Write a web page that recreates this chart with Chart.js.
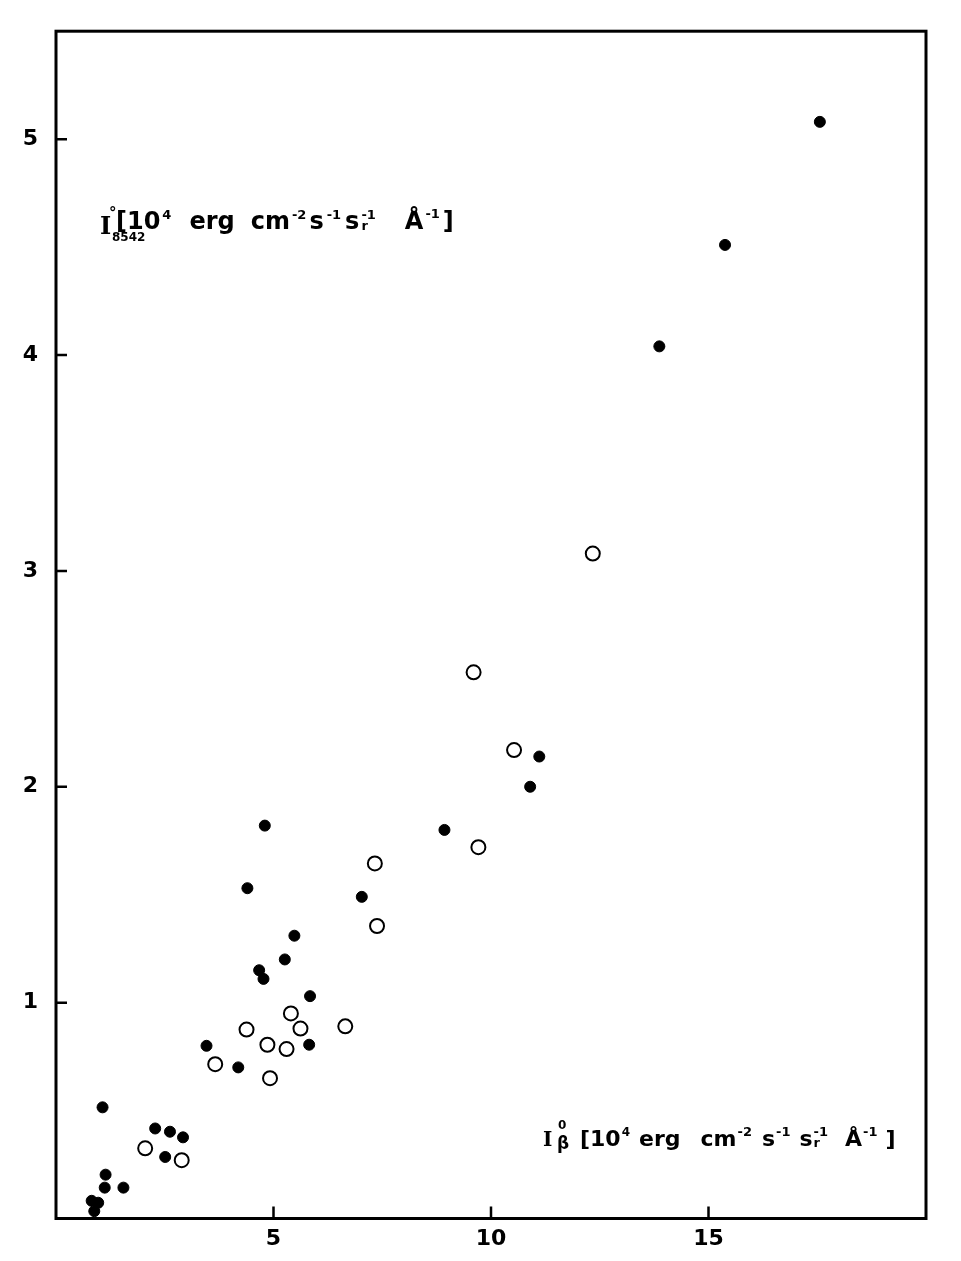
<!DOCTYPE html>
<html>
<head>
<meta charset="utf-8">
<script src="https://cdn.jsdelivr.net/npm/chart.js@4.4.0/dist/chart.umd.min.js"></script>
<style>
  body { margin: 0; background: #fff; }
  canvas { display: block; }
</style>
</head>
<body>
<canvas id="chart" width="961" height="1261"></canvas>
<script>
// I_beta (x) vs I_8542 (y), both in 10^4 erg cm^-2 s^-1 sr^-1 A^-1
const filledX = [17.56, 15.38, 13.87, 11.11, 10.90, 8.93, 4.80, 4.40, 7.03, 5.48, 5.26, 4.67, 4.77, 5.84,
                 3.46, 5.82, 4.19, 1.07, 2.28, 2.62, 2.92, 2.51, 1.14, 1.12, 1.55, 0.82, 0.97, 0.88]
const filledY = [5.08, 4.51, 4.04, 2.14, 2.00, 1.80, 1.82, 1.53, 1.49, 1.31, 1.20, 1.15, 1.11, 1.03,
                 0.80, 0.805, 0.70, 0.515, 0.417, 0.402, 0.376, 0.285, 0.203, 0.143, 0.143, 0.082, 0.073, 0.034]

const openX = [12.34, 9.60, 10.53, 9.71, 7.33, 7.38, 6.65, 5.40, 5.62, 4.38, 4.86, 5.30, 3.66, 4.92, 2.05, 2.89]
const openY = [3.08, 2.53, 2.17, 1.72, 1.645, 1.355, 0.89, 0.95, 0.88, 0.875, 0.805, 0.785, 0.715, 0.65, 0.325, 0.27]

const xTicks = [5, 10, 15]
const yTicks = [1, 2, 3, 4, 5]

const toPoints = (xs, ys) => xs.map((x, i) => ({x, y: ys[i]}))

const FONT = '"DejaVu Sans", sans-serif'

// draws a line of text made of runs: {t, size, dy, gap} or {sub, sup, size, subDy, supDy, gap}
function drawRuns(ctx, x, y, runs) {
    ctx.textBaseline = 'alphabetic'
    ctx.textAlign = 'left'
    runs.forEach(r => {
        if (r.sub !== undefined) {
            ctx.font = 'bold ' + r.size + 'px ' + FONT
            ctx.fillText(r.sub, x, y + r.subDy)
            const w1 = ctx.measureText(r.sub).width
            ctx.fillText(r.sup, x, y + r.supDy)
            const w2 = ctx.measureText(r.sup).width
            x += Math.max(w1, w2) + (r.gap || 0)
        } else {
            ctx.font = (r.serif ? 'bold ' + r.size + 'px "DejaVu Serif", serif' : 'bold ' + r.size + 'px ' + FONT)
            ctx.fillText(r.t, x, y + (r.dy || 0))
            x += ctx.measureText(r.t).width + (r.gap || 0)
        }
    })
    return x
}

const framePlugin = {
    id: 'frame',
    beforeDraw(chart) {
        const ctx = chart.ctx
        ctx.save()
        ctx.fillStyle = '#fff'
        ctx.fillRect(0, 0, chart.width, chart.height)
        ctx.restore()
    },
    afterDraw(chart) {
        const {ctx, chartArea: a, scales} = chart
        ctx.save()
        ctx.strokeStyle = '#000'
        ctx.fillStyle = '#000'
        ctx.lineWidth = 3
        ctx.strokeRect(a.left, a.top, a.right - a.left, a.bottom - a.top)

        ctx.lineWidth = 2.5
        ctx.beginPath()
        yTicks.forEach(v => {
            const py = scales.y.getPixelForValue(v)
            ctx.moveTo(a.left, py)
            ctx.lineTo(a.left + 11, py)
        })
        xTicks.forEach(v => {
            const px = scales.x.getPixelForValue(v)
            ctx.moveTo(px, a.bottom)
            ctx.lineTo(px, a.bottom - 12)
        })
        ctx.stroke()

        // y axis title, top left inside the frame
        let yx = a.left + 44, yb = a.top + 198
        drawRuns(ctx, yx, yb + 5, [{t: 'I', size: 24, serif: true}])
        drawRuns(ctx, yx + 9, yb - 11, [{t: '°', size: 15}])
        drawRuns(ctx, yx + 12, yb + 12, [{t: '8542', size: 12}])
        drawRuns(ctx, yx + 16, yb, [
            {t: '[10', size: 24, gap: 2},
            {t: '4', size: 13, dy: -10, gap: 18},
            {t: 'erg', size: 24, gap: 16},
            {t: 'cm', size: 24, gap: 2},
            {t: '-2', size: 13, dy: -10, gap: 3},
            {t: 's', size: 24, gap: 3},
            {t: '-1', size: 13, dy: -10, gap: 4},
            {t: 's', size: 24, gap: 2},
            {sub: 'r', sup: '-1', size: 13, subDy: 1, supDy: -10, gap: 29},
            {t: 'Å', size: 24, gap: 2},
            {t: '-1', size: 13, dy: -11, gap: 3},
            {t: ']', size: 24}
        ])

        // x axis title, bottom right inside the frame
        let xx = a.left + 487, xb = a.bottom - 73
        drawRuns(ctx, xx, xb, [{t: 'I', size: 20, serif: true}])
        drawRuns(ctx, xx + 15, xb - 17, [{t: '0', size: 12}])
        drawRuns(ctx, xx + 14, xb + 3, [{t: 'β', size: 17}])
        drawRuns(ctx, xx + 37, xb, [
            {t: '[10', size: 22, gap: 1},
            {t: '4', size: 12, dy: -10, gap: 9},
            {t: 'erg', size: 22, gap: 20},
            {t: 'cm', size: 22, gap: 1},
            {t: '-2', size: 13, dy: -10, gap: 10},
            {t: 's', size: 22, gap: 1},
            {t: '-1', size: 13, dy: -10, gap: 9},
            {t: 's', size: 22, gap: 1},
            {sub: 'r', sup: '-1', size: 13, subDy: 1, supDy: -10, gap: 17},
            {t: 'Å', size: 22, gap: 1},
            {t: '-1', size: 13, dy: -10, gap: 8},
            {t: ']', size: 22}
        ])
        ctx.restore()
    }
}

new Chart(document.getElementById('chart').getContext('2d'), {
    type: 'scatter',
    data: {
        datasets: [{
            label: 'filled',
            data: toPoints(filledX, filledY),
            pointRadius: 5.5,
            pointBackgroundColor: '#000',
            pointBorderColor: '#000',
            pointBorderWidth: 1
        }, {
            label: 'open',
            data: toPoints(openX, openY),
            pointRadius: 7,
            pointBackgroundColor: '#fff',
            pointBorderColor: '#000',
            pointBorderWidth: 2
        }]
    },
    options: {
        responsive: false,
        animation: false,
        layout: {padding: {left: 0, right: 35, top: 29, bottom: 0}},
        plugins: {legend: {display: false}, tooltip: {enabled: false}},
        scales: {
            x: {
                type: 'linear',
                min: 0,
                max: 20,
                afterFit: scale => { scale.height = 42.5 },
                grid: {display: false, drawTicks: false},
                border: {display: false},
                ticks: {
                    stepSize: 5,
                    padding: 8,
                    color: '#000',
                    font: {family: FONT, size: 22, weight: 'bold'},
                    callback: v => xTicks.includes(v) ? String(v) : ''
                }
            },
            y: {
                type: 'linear',
                min: 0,
                max: 5.5,
                afterFit: scale => { scale.width = 56 },
                grid: {display: false, drawTicks: false},
                border: {display: false},
                ticks: {
                    stepSize: 1,
                    padding: 18,
                    color: '#000',
                    font: {family: FONT, size: 22, weight: 'bold'},
                    callback: v => yTicks.includes(v) ? String(v) : ''
                }
            }
        }
    },
    plugins: [framePlugin]
})
</script>
</body>
</html>
